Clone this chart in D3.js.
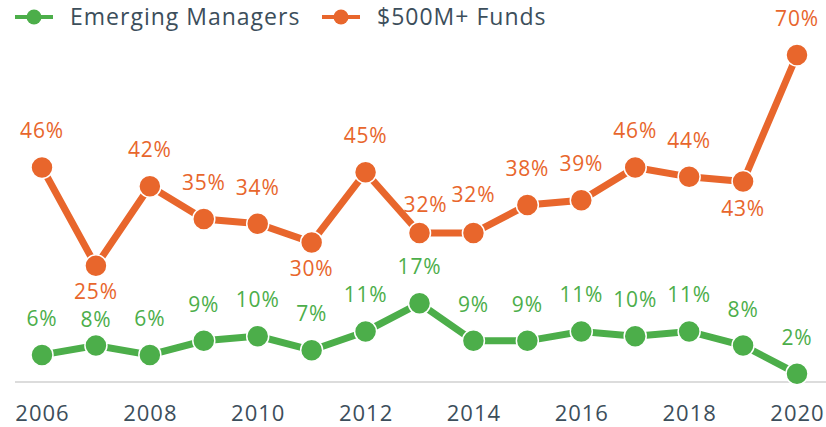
<!DOCTYPE html>
<html>
<head>
<meta charset="utf-8">
<script src="https://cdn.jsdelivr.net/npm/d3@7"></script>
<style>
  body { margin: 0; background: #fff; }
  text { font-family: "Open Sans", "Noto Sans", sans-serif; }
</style>
</head>
<body>
<script>
// data
var years = [2006, 2007, 2008, 2009, 2010, 2011, 2012, 2013, 2014, 2015, 2016, 2017, 2018, 2019, 2020];
var emerging = [6, 8, 6, 9, 10, 7, 11, 17, 9, 9, 11, 10, 11, 8, 2];
var bigFunds = [46, 25, 42, 35, 34, 30, 45, 32, 32, 38, 39, 46, 44, 43, 70];
var tickYears = [2006, 2008, 2010, 2012, 2014, 2016, 2018, 2020];
var seriesNames = ['Emerging Managers', '$500M+ Funds'];

var green = '#4cae4a';
var orange = '#e8662c';
var textColor = '#3c4e5b';

var width = 826, height = 427;

var svg = d3.select('body')
	.append('svg')
	.attr('width', width)
	.attr('height', height);

var x = d3.scaleLinear().domain([2006, 2020]).range([42, 797]);
var y = d3.scaleLinear().domain([0, 70]).range([383, 55]);

// baseline
svg.append('line')
	.attr('x1', 15).attr('x2', width)
	.attr('y1', y(0) - 1).attr('y2', y(0) - 1)
	.attr('stroke', '#dcdcdc')
	.attr('stroke-width', 2);

// x axis
var x_axis = d3.axisBottom(x)
	.tickValues(tickYears)
	.tickFormat(d3.format('d'))
	.tickSize(0)
	.tickPadding(0);

var gx = svg.append('g')
	.attr('class', 'x axis')
	.attr('transform', 'translate(0,' + 403 + ')')
	.call(x_axis);
gx.select('.domain').remove();
gx.selectAll('text')
	.attr('fill', textColor)
	.attr('font-size', 22)
	.attr('letter-spacing', 1)
	.attr('dy', '0.8em');

// series (label nudges keep crowded labels apart, as in the original)
var series = [
	{ name: seriesNames[0], values: emerging, color: green, below: [],
	  nudge: { 2007: [0, 10] } },
	{ name: seriesNames[1], values: bigFunds, color: orange, below: [2007, 2011, 2019],
	  nudge: { 2007: [0, -1], 2013: [6, 8], 2014: [0, -2] } }
];

var line = d3.line()
	.x(function (d) { return x(d.year); })
	.y(function (d) { return y(d.value); });

series.forEach(function (s) {
	var pts = years.map(function (yr, i) { return { year: yr, value: s.values[i] }; });

	svg.append('path')
		.datum(pts)
		.attr('d', line)
		.attr('fill', 'none')
		.attr('stroke', s.color)
		.attr('stroke-width', 7);

	svg.selectAll(null)
		.data(pts)
		.enter()
		.append('circle')
		.attr('cx', function (d) { return x(d.year); })
		.attr('cy', function (d) { return y(d.value); })
		.attr('r', 11)
		.attr('fill', s.color)
		.attr('stroke', '#fff')
		.attr('stroke-width', 1.5);

	svg.selectAll(null)
		.data(pts)
		.enter()
		.append('text')
		.attr('x', function (d) {
			var n = s.nudge[d.year] || [0, 0];
			return x(d.year) + n[0];
		})
		.attr('y', function (d) {
			var n = s.nudge[d.year] || [0, 0];
			var base = s.below.indexOf(d.year) >= 0 ? y(d.value) + 34 : y(d.value) - 29;
			return base + n[1];
		})
		.attr('text-anchor', 'middle')
		.attr('font-size', 21)
		.attr('letter-spacing', 0.8)
		.attr('fill', s.color)
		.text(function (d) { return d.value + '%'; });
});

// legend
var legend = svg.selectAll('.legend')
	.data(series)
	.enter()
	.append('g')
	.attr('class', 'legend')
	.attr('transform', function (d, i) { return 'translate(' + (i === 0 ? 15 : 322) + ',17)'; });

legend.append('line')
	.attr('x1', 0).attr('x2', 38)
	.attr('stroke', function (d) { return d.color; })
	.attr('stroke-width', 4);
legend.append('circle')
	.attr('cx', 19)
	.attr('r', 7.5)
	.attr('fill', function (d) { return d.color; });
legend.append('text')
	.attr('x', 55)
	.attr('y', 8)
	.attr('font-size', 23)
	.attr('letter-spacing', 1)
	.attr('fill', textColor)
	.text(function (d) { return d.name; });
</script>
</body>
</html>
